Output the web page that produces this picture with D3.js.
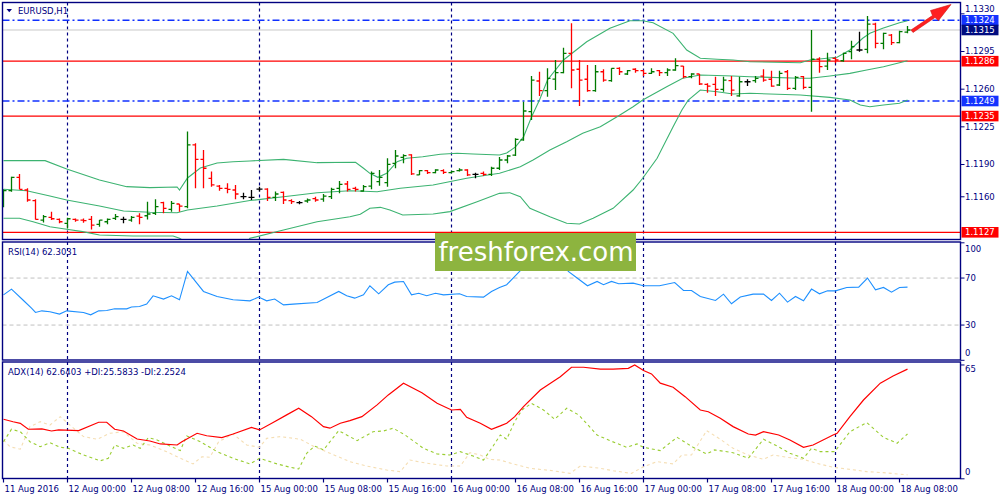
<!DOCTYPE html>
<html><head><meta charset="utf-8">
<script src="https://cdn.jsdelivr.net/npm/d3@7"></script>
<style>body{margin:0;background:#fff;}svg{display:block;}text{font-family:"DejaVu Sans",sans-serif;}</style>
</head><body><svg id="c" width="1000" height="500"></svg>
<script>
// ---------------- DATA ----------------
const opens=[1.11560,1.11657,1.11781,1.11663,1.11564,1.11384,1.11409,1.11390,1.11353,1.11390,1.11384,1.11390,1.11344,1.11368,1.11399,1.11390,1.11384,1.11421,1.11424,1.11446,1.11545,1.11483,1.11533,1.11508,1.12082,1.11948,1.11772,1.11700,1.11679,1.11663,1.11601,1.11595,1.11672,1.11672,1.11595,1.11641,1.11564,1.11545,1.11561,1.11582,1.11579,1.11601,1.11679,1.11719,1.11679,1.11654,1.11700,1.11740,1.11731,1.11911,1.11967,1.11989,1.11803,1.11843,1.11824,1.11843,1.11824,1.11843,1.11849,1.11809,1.11818,1.11809,1.11865,1.11942,1.11988,1.12128,1.12391,1.12676,1.12586,1.12694,1.12753,1.12933,1.12785,1.12692,1.12586,1.12762,1.12679,1.12794,1.12741,1.12785,1.12772,1.12747,1.12772,1.12753,1.12778,1.12815,1.12716,1.12741,1.12645,1.12645,1.12599,1.12679,1.12537,1.12669,1.12679,1.12722,1.12692,1.12639,1.12762,1.12608,1.12716,1.12617,1.12878,1.12815,1.12887,1.12864,1.12948,1.12964,1.12970,1.13205,1.13026,1.13103,1.13032,1.13131];
const highs=[1.11669,1.11787,1.11812,1.11679,1.11576,1.11430,1.11461,1.11399,1.11406,1.11399,1.11399,1.11421,1.11384,1.11399,1.11440,1.11415,1.11421,1.11446,1.11555,1.11576,1.11555,1.11561,1.11533,1.12206,1.12097,1.12035,1.11834,1.11710,1.11725,1.11710,1.11638,1.11663,1.11694,1.11679,1.11648,1.11648,1.11576,1.11561,1.11585,1.11601,1.11626,1.11685,1.11747,1.11747,1.11694,1.11710,1.11834,1.11849,1.11958,1.12035,1.11995,1.11995,1.11849,1.11849,1.11855,1.11855,1.11843,1.11865,1.11855,1.11824,1.11834,1.11880,1.11970,1.11988,1.12143,1.12484,1.12722,1.12762,1.12794,1.12871,1.12985,1.13212,1.12871,1.12825,1.12825,1.12785,1.12794,1.12803,1.12778,1.12794,1.12778,1.12794,1.12778,1.12794,1.12887,1.12815,1.12747,1.12741,1.12654,1.12716,1.12716,1.12722,1.12716,1.12692,1.12722,1.12785,1.12772,1.12772,1.12778,1.12722,1.12722,1.13150,1.12896,1.12939,1.12896,1.12939,1.13050,1.13134,1.13280,1.13218,1.13125,1.13113,1.13143,1.13187];
const lows=[1.11502,1.11647,1.11669,1.11555,1.11390,1.11362,1.11384,1.11353,1.11306,1.11368,1.11359,1.11297,1.11322,1.11344,1.11384,1.11353,1.11368,1.11344,1.11390,1.11430,1.11446,1.11461,1.11461,1.11493,1.11679,1.11679,1.11694,1.11657,1.11632,1.11576,1.11576,1.11570,1.11648,1.11561,1.11561,1.11533,1.11533,1.11530,1.11545,1.11555,1.11555,1.11579,1.11632,1.11648,1.11648,1.11648,1.11669,1.11703,1.11694,1.11865,1.11911,1.11803,1.11803,1.11812,1.11818,1.11812,1.11818,1.11834,1.11793,1.11772,1.11793,1.11793,1.11849,1.11911,1.11979,1.12121,1.12313,1.12537,1.12530,1.12592,1.12747,1.12608,1.12444,1.12576,1.12576,1.12669,1.12669,1.12732,1.12732,1.12753,1.12722,1.12741,1.12722,1.12722,1.12772,1.12701,1.12701,1.12639,1.12567,1.12537,1.12576,1.12537,1.12530,1.12629,1.12660,1.12669,1.12623,1.12629,1.12592,1.12592,1.12599,1.12391,1.12753,1.12778,1.12840,1.12855,1.12878,1.12948,1.12933,1.12980,1.12970,1.13010,1.13026,1.13119];
const closes=[1.11657,1.11781,1.11669,1.11570,1.11390,1.11415,1.11396,1.11368,1.11396,1.11384,1.11378,1.11337,1.11384,1.11390,1.11415,1.11390,1.11409,1.11409,1.11440,1.11508,1.11493,1.11539,1.11514,1.12082,1.11948,1.11865,1.11710,1.11679,1.11669,1.11626,1.11601,1.11595,1.11672,1.11595,1.11626,1.11570,1.11555,1.11545,1.11570,1.11570,1.11607,1.11669,1.11716,1.11669,1.11669,1.11694,1.11818,1.11781,1.11902,1.11979,1.11982,1.11812,1.11843,1.11824,1.11849,1.11827,1.11834,1.11849,1.11803,1.11809,1.11809,1.11865,1.11942,1.11979,1.12134,1.12397,1.12684,1.12586,1.12701,1.12753,1.12933,1.12778,1.12684,1.12586,1.12762,1.12684,1.12794,1.12762,1.12772,1.12772,1.12747,1.12762,1.12753,1.12778,1.12818,1.12716,1.12741,1.12648,1.12629,1.12599,1.12684,1.12592,1.12669,1.12669,1.12701,1.12684,1.12629,1.12747,1.12608,1.12710,1.12617,1.12878,1.12809,1.12871,1.12871,1.12933,1.12995,1.12964,1.13205,1.13026,1.13119,1.13032,1.13134,1.13150];

const bbUpper=[[0,1.11936],[5.2,1.11936],[7.9,1.11858],[12,1.11756],[15.4,1.11694],[18.3,1.11685],[21.7,1.11691],[22,1.11663],[23,1.11775],[24.6,1.11867],[26.7,1.11914],[28.7,1.11926],[30.8,1.11933],[35,1.11948],[39.2,1.11917],[44,1.11921],[45,1.11865],[45.8,1.11818],[46.8,1.11781],[47.9,1.11818],[49.2,1.11926],[50.4,1.11958],[52.4,1.11972],[54.6,1.11995],[56.7,1.12004],[58.7,1.11998],[62,1.11988],[62.9,1.12007],[64,1.12063],[65,1.12156],[66,1.12341],[67,1.12499],[68,1.12685],[70,1.12871],[72.9,1.13041],[75.8,1.13166],[78.3,1.13236],[79.9,1.13236],[81.2,1.13218],[83.7,1.13119],[85.4,1.12964],[87.1,1.12887],[89.2,1.12878],[91.2,1.12871],[93.3,1.12855],[99.6,1.12846],[100.8,1.12871],[102.9,1.12887],[104.2,1.12896],[105.8,1.12964],[107.4,1.13073],[108.3,1.13119],[109.9,1.13166],[112,1.13218],[113,1.13236]];
const bbMiddle=[[0,1.11670],[2.9,1.11656],[5.8,1.11607],[7.9,1.11570],[12,1.11515],[15,1.11468],[18.3,1.11456],[21.7,1.11452],[23,1.11477],[26.7,1.11515],[30.8,1.11565],[35,1.11601],[39.2,1.11638],[43.3,1.11656],[46.7,1.11647],[49.6,1.11679],[53.7,1.11710],[57.9,1.11772],[62,1.11818],[64.6,1.11880],[66.2,1.11942],[68.3,1.12035],[70.4,1.12112],[72.4,1.12191],[74.6,1.12251],[76.7,1.12344],[78.7,1.12437],[79.9,1.12499],[82.9,1.12623],[84.9,1.12701],[87.1,1.12732],[91.2,1.12722],[93.3,1.12716],[99.6,1.12701],[100.8,1.12701],[103.3,1.12722],[105.8,1.12747],[107.9,1.12778],[110,1.12809],[113,1.12864]];
const bbLower=[[0,1.11400],[2,1.11400],[3.7,1.11368],[5.8,1.11322],[7.9,1.11298],[9.9,1.11276],[12,1.11245],[16.2,1.11236],[21.2,1.11236],[22,1.11214],[23,1.11170],[24.6,1.11080],[26.7,1.11030],[28.7,1.11060],[30.2,1.11150],[30.8,1.11214],[35,1.11291],[39.2,1.11368],[43.3,1.11415],[44.6,1.11437],[45.8,1.11493],[47.1,1.11502],[48.3,1.11477],[49.9,1.11431],[53.7,1.11440],[55.8,1.11462],[59.2,1.11554],[62,1.11632],[63.3,1.11638],[64.6,1.11601],[65.8,1.11493],[68.3,1.11415],[70.4,1.11354],[72,1.11347],[73.7,1.11400],[76.2,1.11493],[78.7,1.11663],[79.9,1.11772],[81.7,1.11958],[83.7,1.12251],[84.8,1.12406],[85.6,1.12499],[87.1,1.12592],[89.2,1.12576],[91.2,1.12555],[93.3,1.12562],[99.6,1.12546],[103.3,1.12524],[105.8,1.12499],[107.1,1.12453],[108.3,1.12437],[110,1.12453],[112,1.12469],[113,1.12499]];

const rsi=[[0,55.7],[1,60.6],[2.5,50.9],[3.5,44.4],[4,40.7],[4.8,42.1],[5.8,41.3],[7,39.3],[7.9,42.1],[10,40.7],[10.9,38.7],[11.9,42.1],[12.9,42.4],[13.9,43.8],[15.4,43.8],[16,45.3],[17,45.8],[17.9,47.8],[18.7,54.9],[20,52.1],[21,54.9],[22,51.5],[23,75.6],[25,58.6],[26.7,54.3],[28.7,51.5],[30.8,50.6],[31.9,53.8],[32.9,50.6],[33.9,52.1],[35,47.2],[36.2,47.8],[39.2,49.2],[41.9,58.6],[42.9,54.9],[43.9,52.9],[45,55.7],[45.8,63.4],[46.9,56.6],[48.1,64.3],[48.9,66.5],[50,67.1],[51,55.7],[51.9,57.1],[52.9,54.9],[54,57.1],[55,55.7],[57,56.6],[57.9,54.3],[60,53.8],[61,58.6],[62,62.0],[62.9,64.3],[63.7,70],[65,79],[66,85],[67,80],[68,83],[69,85],[70,82],[70.6,75.6],[71.7,70],[73,63.4],[74.2,67.1],[75,64.3],[76,67.1],[76.9,65.1],[78.7,65.7],[80,63.4],[82,63.4],[83.9,66.2],[85,59.4],[86,59.4],[87.1,54.3],[89,50.9],[90,56.3],[91,48.1],[92.1,53.8],[93.7,56.3],[95,56.3],[96,50.9],[97,57.1],[98,49.5],[99,54.3],[100,50.6],[101,60.6],[102,56.6],[103,59.1],[104,59.1],[105.4,62.0],[106.9,62.3],[108,70],[109,60],[110,62],[111,58],[112,62],[113,62.3]];

const adx=[[0,34.0],[1.2,32.6],[2.1,31.7],[3.1,28.3],[4.8,28.5],[6,27.3],[6.9,27.9],[9.4,27.5],[11.9,32.3],[12.9,32.3],[13.9,28.3],[15,27.3],[16.7,22.7],[18.3,21.6],[19.6,19.9],[21.7,19.3],[22.3,21.2],[24.2,26.0],[25.4,24.6],[27.3,23.5],[28.7,25.6],[31,29.4],[32,27.9],[33.7,32.1],[35.4,36.5],[36.9,40.3],[38.5,35.5],[40,29.8],[40.8,28.9],[42.1,31.7],[43.3,33.2],[44.8,35.5],[46.7,42.2],[48.1,47.9],[50,54.6],[52.3,49.2],[54.2,43.1],[56,39.3],[57.1,39.7],[57.9,35.1],[59.6,31.7],[61,28.3],[62.1,30.2],[62.9,31.7],[63.9,35.5],[65,41.2],[67.1,50.7],[68.7,55.5],[69.6,58.3],[71,63.7],[72.5,63.7],[74.6,62.6],[76.2,62.6],[78.1,63.1],[78.9,65.0],[80,61.8],[81,59.9],[82.1,54.6],[83.7,52.3],[85.2,46.9],[87.1,39.3],[88.1,38.3],[89.6,34.6],[91.2,29.8],[93.1,25.6],[94,25.0],[95,26.9],[96.9,25.0],[98.3,22.2],[100,18.0],[101.2,19.3],[103.7,25.0],[104.2,26.0],[105.8,35.5],[107.5,45.0],[109.6,54.6],[111.2,58.7],[113,62.64]];
const plusDI=[[0,21.2],[1,28.3],[2.1,26.9],[3.3,21.2],[4.6,18.3],[5.8,20.6],[7.1,18.0],[8.1,17.4],[10,13.6],[12.1,10.3],[13.1,11.7],[13.9,19.3],[15,17.4],[16.2,19.3],[17.1,17.4],[18.1,23.5],[19.2,22.2],[20.8,18.7],[22.1,16.1],[22.9,24.5],[24.6,21.2],[26.7,15.5],[28.7,11.7],[30.8,8.5],[32,11.7],[34.2,8.5],[35.8,6.6],[36.9,5.6],[37.9,14.6],[38.9,18.7],[40,16.5],[41.9,27.5],[44.2,21.8],[46.2,26.9],[47.5,27.3],[48.7,28.9],[50.2,25.0],[52.5,17.4],[54.2,14.2],[55.8,13.6],[57.1,15.5],[58.7,13.0],[60,10.7],[61.2,18.7],[62.1,25.0],[62.9,22.6],[63.9,32.6],[64.8,39.3],[66,43.1],[67.5,39.3],[68.9,34.0],[70.4,40.3],[71.9,36.5],[74.2,25.0],[75.8,21.8],[77.9,18.0],[79.2,19.9],[80,18.0],[82.1,16.1],[84.2,23.7],[86.2,18.0],[87.9,14.2],[88.9,16.5],[91.2,14.9],[93.1,11.7],[95,22.6],[96.7,18.7],[98.3,14.6],[100,11.7],[101,17.4],[102.1,15.5],[103.9,15.5],[105.8,26.9],[107.9,32.1],[110,23.7],[111.7,20.3],[113,25.58]];
const minusDI=[[0,22.2],[0.8,18.3],[2.1,16.9],[3.3,29.8],[4.6,32.6],[5.8,30.7],[7.1,35.5],[8.3,30.7],[10,24.1],[11.7,22.6],[13.3,26.0],[15,26.9],[16.7,20.3],[18.3,19.3],[20.4,15.5],[22.1,11.7],[23.7,8.5],[24.8,12.6],[25.8,12.3],[26.9,21.2],[28.7,25.6],[30.4,19.3],[32,18.0],[32.9,23.1],[34.6,24.1],[37.1,22.6],[38.7,18.7],[40.8,14.6],[43.3,9.8],[45.4,7.3],[47.9,5.0],[49.6,4.1],[50.8,10.7],[52.9,8.9],[55.4,7.3],[57.1,7.3],[58.3,14.9],[59.6,13.6],[60.8,11.1],[62.1,10.7],[63.7,8.5],[65.8,6.0],[68.7,4.6],[70.8,3.1],[72.1,7.3],[74.6,6.0],[76.2,4.6],[78.5,3.1],[80,6.9],[81.7,9.8],[83.7,8.5],[84.8,13.6],[86,13.6],[87.9,27.5],[89.6,22.6],[91.2,17.4],[93.1,13.6],[95,11.1],[96.2,13.6],[97.9,12.3],[100,11.1],[101.6,8.9],[103.7,6.6],[105.8,5.4],[107.9,4.1],[110,3.5],[113,2.25]];

const timeTickIdx=[0,8,16,24,32,40,48,56,64,72,80,88,96,104,112];
const timeTickLabels=["11 Aug 2016","12 Aug 00:00","12 Aug 08:00","12 Aug 16:00","15 Aug 00:00","15 Aug 08:00","15 Aug 16:00","16 Aug 00:00","16 Aug 08:00","16 Aug 16:00","17 Aug 00:00","17 Aug 08:00","17 Aug 16:00","18 Aug 00:00","18 Aug 08:00"];
const daySeparatorIdx=[8,32,56,80,104];
const priceTicks=[1.1330,1.1295,1.1260,1.1225,1.1190,1.1160];
const redLevels=[1.1286,1.1235,1.1127];
const blueLevels=[1.1324,1.1249];
const bidPrice=1.1315;
const rsiTicks=[100,70,30,0];
const rsiLevels=[70,30];
const adxTicks=[65,0];
const mainTitle="EURUSD,H1";
const rsiTitle="RSI(14) 62.3031";
const adxTitle="ADX(14) 62.6403 +DI:25.5833 -DI:2.2524";
const watermark="freshforex.com";

// ---------------- DRAW ----------------
const svg=d3.select("#c");
const NAVY="#000080";
const L=2.5,R=960.5;
const panels={main:[2.5,239.5],rsi:[242,360],adx:[362,478.5]};
const x=d3.scaleLinear().domain([0,113]).range([3.5,907.5]);
const y=d3.scaleLinear().domain([1.1127,1.1324]).range([232.3,20.3]);
const yr=d3.scaleLinear().domain([0,100]).range([360.3,242.8]);
const ya=d3.scaleLinear().domain([0,66.7]).range([478.8,362]);

const defs=svg.append("defs");
Object.entries(panels).forEach(([k,[t,b]])=>{
  defs.append("clipPath").attr("id","clip-"+k).append("rect").attr("x",L).attr("y",t).attr("width",R-L).attr("height",b-t);
});
const g={};
Object.keys(panels).forEach(k=>{g[k]=svg.append("g").attr("clip-path","url(#clip-"+k+")");});

// day separators
Object.entries(panels).forEach(([k,[t,b]])=>{
  g[k].selectAll("line.sep").data(daySeparatorIdx).enter().append("line")
    .attr("x1",d=>x(d)).attr("x2",d=>x(d)).attr("y1",t).attr("y2",b)
    .attr("stroke",NAVY).attr("stroke-width",1.2).attr("stroke-dasharray","3,3");
});

// main: horizontal levels
g.main.append("line").attr("x1",L).attr("x2",R).attr("y1",y(bidPrice)).attr("y2",y(bidPrice)).attr("stroke","#c8c8c8").attr("stroke-width",1);
g.main.selectAll("line.red").data(redLevels).enter().append("line")
  .attr("x1",L).attr("x2",R).attr("y1",d=>y(d)).attr("y2",d=>y(d)).attr("stroke","#ff0000").attr("stroke-width",1.3);
g.main.selectAll("line.blue").data(blueLevels).enter().append("line")
  .attr("x1",L).attr("x2",R).attr("y1",d=>y(d)).attr("y2",d=>y(d)).attr("stroke","#1030ff").attr("stroke-width",1.4).attr("stroke-dasharray","7,3,2,3");

// Bollinger
const lineMain=d3.line().x(d=>x(d[0])).y(d=>y(d[1]));
[bbUpper,bbMiddle,bbLower].forEach(s=>{
  g.main.append("path").attr("d",lineMain(s)).attr("fill","none").attr("stroke","#3cb371").attr("stroke-width",1.1);
});

// OHLC bars
const bars=g.main.selectAll("g.bar").data(d3.range(opens.length)).enter().append("g")
  .attr("stroke",i=>closes[i]>opens[i]?"#007a00":(closes[i]<opens[i]?"#ff0000":"#000000"))
  .attr("stroke-width",1.3);
bars.append("line").attr("x1",i=>x(i)).attr("x2",i=>x(i)).attr("y1",i=>y(highs[i])).attr("y2",i=>y(lows[i]));
bars.append("line").attr("x1",i=>x(i)-3).attr("x2",i=>x(i)).attr("y1",i=>y(opens[i])).attr("y2",i=>y(opens[i]));
bars.append("line").attr("x1",i=>x(i)).attr("x2",i=>x(i)+3).attr("y1",i=>y(closes[i])).attr("y2",i=>y(closes[i]));

// RSI
g.rsi.selectAll("line.lvl").data(rsiLevels).enter().append("line")
  .attr("x1",L).attr("x2",R).attr("y1",d=>yr(d)).attr("y2",d=>yr(d)).attr("stroke","#c0c0c0").attr("stroke-dasharray","4,3");
g.rsi.append("path").attr("d",d3.line().x(d=>x(d[0])).y(d=>yr(d[1]))(rsi)).attr("fill","none").attr("stroke","#1e90ff").attr("stroke-width",1.1);

// ADX
const lineA=d3.line().x(d=>x(d[0])).y(d=>ya(d[1]));
g.adx.append("path").attr("d",lineA(minusDI)).attr("fill","none").attr("stroke","#f5deb3").attr("stroke-width",1.1).attr("stroke-dasharray","3,3");
g.adx.append("path").attr("d",lineA(plusDI)).attr("fill","none").attr("stroke","#9acd32").attr("stroke-width",1.1).attr("stroke-dasharray","3,3");
g.adx.append("path").attr("d",lineA(adx)).attr("fill","none").attr("stroke","#ff0000").attr("stroke-width",1.2);

// frames
Object.values(panels).forEach(([t,b])=>{
  svg.append("rect").attr("x",L).attr("y",t).attr("width",R-L).attr("height",b-t).attr("fill","none").attr("stroke",NAVY).attr("stroke-width",1.4);
});

// right axes
const fs="8.5px";
function rightAxis(vals,scale,fmt,labelY){
  vals.forEach(v=>{
    svg.append("line").attr("x1",R).attr("x2",R+4).attr("y1",scale(v)).attr("y2",scale(v)).attr("stroke",NAVY).attr("stroke-width",1);
    svg.append("text").attr("x",965).attr("y",labelY?labelY(v):scale(v)).attr("dy","0.35em").attr("fill",NAVY).attr("font-size",fs).text(fmt(v));
  });
}
// topmost price label sits just above the level boxes
rightAxis(priceTicks,y,d3.format(".4f"),v=>Math.min(y(v),Math.max(8.5,y(v))) - (y(v)<16?4.5:0));
rightAxis(rsiTicks,yr,d3.format("d"),v=>Math.max(249,Math.min(353,yr(v))));
rightAxis(adxTicks,ya,d3.format("d"),v=>Math.max(369,Math.min(472.5,ya(v))));

// price boxes
const boxes=[...blueLevels.map(v=>[v,"#1433ff"]),[bidPrice,"#000c80"],...redLevels.map(v=>[v,"#ff0000"])];
boxes.forEach(([v,c])=>{
  svg.append("rect").attr("x",961.5).attr("y",y(v)-5.3).attr("width",37).attr("height",10.6).attr("fill",c);
  svg.append("text").attr("x",965).attr("y",y(v)).attr("dy","0.35em").attr("fill","#fff").attr("font-size",fs).text(d3.format(".4f")(v));
});

// time axis
timeTickIdx.forEach((d,k)=>{
  svg.append("line").attr("x1",x(d)).attr("x2",x(d)).attr("y1",478.5).attr("y2",482.5).attr("stroke",NAVY).attr("stroke-width",1.2);
  svg.append("text").attr("x",x(d)+1).attr("y",492).attr("fill",NAVY).attr("font-size",fs).text(timeTickLabels[k]);
});

// titles
svg.append("path").attr("d","M6.5,9 L12,9 L9.25,12.2 Z").attr("fill",NAVY);
svg.append("text").attr("x",18).attr("y",13.5).attr("fill",NAVY).attr("font-size",fs).text(mainTitle);
svg.append("text").attr("x",8).attr("y",254.5).attr("fill",NAVY).attr("font-size",fs).text(rsiTitle);
svg.append("text").attr("x",8).attr("y",374.5).attr("fill",NAVY).attr("font-size",fs).text(adxTitle);

// arrow
svg.append("path").attr("d","M911,30 L932.5,15.5 L930.5,10.5 L951,4.5 L938.5,20.5 L935,17.5 L913,32.5 Z")
  .attr("fill","#ff2020").attr("stroke","#d01010").attr("stroke-width",0.6);

// watermark
svg.append("rect").attr("x",435).attr("y",233).attr("width",201).attr("height",38).attr("fill","#8db43f");
svg.append("text").attr("x",536).attr("y",261).attr("text-anchor","middle").attr("fill","#fff")
  .attr("font-family","'Open Sans',sans-serif").attr("font-size","26px").text(watermark);
</script></body></html>
